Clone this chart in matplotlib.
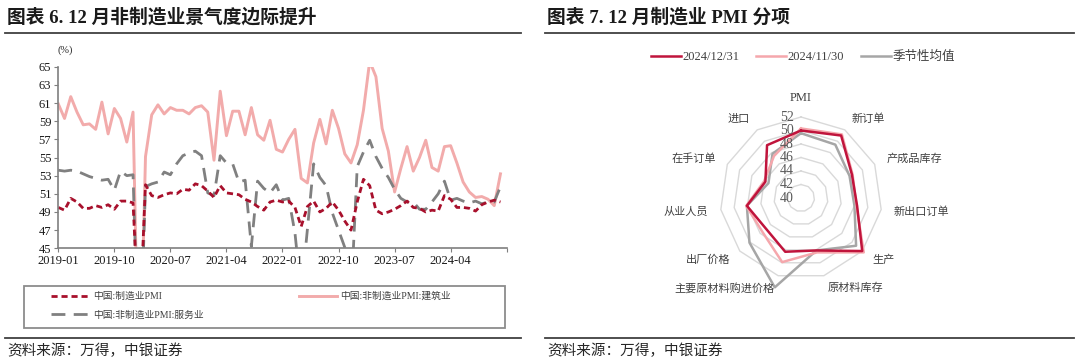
import numpy as np
import matplotlib
matplotlib.use('Agg')
import matplotlib.pyplot as plt
from matplotlib.lines import Line2D
from matplotlib.patches import Rectangle

plt.rcParams['font.family'] = ['Liberation Serif', 'Noto Sans CJK SC']

# ---- left chart: monthly PMI 2019-01 .. 2024-12 (%)
mfg_pmi = [49.5, 49.2, 50.5, 50.1, 49.4, 49.4, 49.7, 49.5, 49.8, 49.3, 50.2, 50.2,
           50.0, 35.7, 52.0, 50.8, 50.6, 50.9, 51.1, 51.0, 51.5, 51.4, 52.1, 51.9,
           51.3, 50.6, 51.9, 51.1, 51.0, 50.9, 50.4, 50.1, 49.6, 49.2, 50.1, 50.3,
           50.1, 50.2, 49.5, 47.4, 49.6, 50.2, 49.0, 49.4, 50.1, 49.2, 48.0, 47.0,
           50.1, 52.6, 51.9, 49.2, 48.8, 49.0, 49.3, 49.7, 50.2, 49.5, 49.4, 49.0,
           49.2, 49.1, 50.8, 50.4, 49.5, 49.5, 49.4, 49.1, 49.8, 50.1, 50.3, 50.1]
construction_pmi = [60.9, 59.3, 61.7, 60.0, 58.6, 58.7, 58.1, 61.1, 57.6, 60.4, 59.3, 56.7,
                    60.0, 26.6, 55.1, 59.7, 60.8, 59.8, 60.5, 60.2, 60.2, 59.8, 60.5, 60.7,
                    60.0, 54.7, 62.3, 57.4, 60.1, 60.1, 57.5, 60.5, 57.5, 56.9, 59.1, 55.9,
                    55.6, 57.0, 58.1, 52.7, 52.2, 56.6, 59.2, 56.5, 60.2, 58.2, 55.4, 54.4,
                    56.4, 60.2, 65.6, 63.9, 58.2, 55.7, 51.2, 53.8, 56.2, 53.5, 55.0, 56.9,
                    53.9, 53.5, 56.2, 56.3, 54.4, 52.3, 51.2, 50.6, 50.7, 50.4, 49.7, 53.2]
services_pmi = [53.6, 53.5, 53.6, 53.5, 53.2, 52.9, 52.7, 52.5, 52.6, 51.4, 53.5, 53.0,
                53.1, 30.1, 51.8, 52.1, 52.3, 53.4, 53.1, 54.3, 55.2, 55.5, 55.7, 55.2,
                51.1, 50.8, 55.2, 54.4, 54.3, 52.3, 52.5, 45.2, 52.4, 51.6, 51.1, 52.0,
                50.3, 50.5, 46.7, 40.0, 47.1, 54.3, 52.8, 51.9, 48.9, 47.0, 45.1, 39.4,
                54.0, 55.6, 56.9, 55.1, 53.8, 52.8, 51.5, 50.5, 50.1, 50.1, 49.3, 49.3,
                50.1, 51.0, 52.4, 50.3, 50.5, 50.2, 50.0, 50.2, 49.9, 50.1, 50.1, 51.8]
x_labels = ['2019-01', '2019-10', '2020-07', '2021-04', '2022-01',
            '2022-10', '2023-07', '2024-04', '']
y_ticks = [45, 47, 49, 51, 53, 55, 57, 59, 61, 63, 65]

# ---- right chart: December manufacturing PMI sub-indices
radar_cats = ['PMI', '新订单', '产成品库存', '新出口订单', '生产', '原材料库存',
              '主要原材料购进价格', '出厂价格', '从业人员', '在手订单', '进口']
dec_2024 = [50.0, 51.0, 48.3, 48.4, 52.0, 48.1, 48.3, 46.9, 48.1, 45.8, 49.3]
nov_2024 = [50.3, 51.2, 48.4, 48.3, 52.3, 48.4, 49.9, 47.6, 48.2, 46.0, 47.4]
seasonal = [49.6, 49.4, 47.9, 48.0, 50.8, 48.1, 53.8, 50.1, 48.1, 45.3, 47.8]
radar_rings = [42, 44, 46, 48, 50, 52]
radar_ticks = [40, 42, 44, 46, 48, 50, 52]

W, H = 1080, 364
fig = plt.figure(figsize=(W / 100, H / 100), dpi=100)

def fx(px):
    return px / W

def fy(py):
    return 1 - py / H

# titles, rules, sources
fig.text(fx(7), fy(17), '图表 6. 12 月非制造业景气度边际提升', fontsize=13.5,
         fontweight='bold', va='center', color='#1a1a1a')
fig.text(fx(547), fy(17), '图表 7. 12 月制造业 PMI 分项', fontsize=13.5,
         fontweight='bold', va='center', color='#1a1a1a')
for x0, x1 in [(5, 521), (545, 1074)]:
    fig.add_artist(Line2D([fx(x0), fx(x1)], [fy(33), fy(33)], color='#404040', lw=1.3))
    fig.add_artist(Line2D([fx(x0), fx(x1)], [fy(337.5), fy(337.5)], color='#404040', lw=1.3))
fig.text(fx(7), fy(351), '资料来源：万得，中银证券', fontsize=10.5, va='center', color='#262626')
fig.text(fx(547), fy(351), '资料来源：万得，中银证券', fontsize=10.5, va='center', color='#262626')

# ---- left line chart
ax = fig.add_axes([fx(58.3), fy(248.3), fx(506.7 - 58.3), (248.3 - 66.7) / H])
x = np.arange(len(mfg_pmi))
l_con, = ax.plot(x, construction_pmi, color='#F2ABAB', lw=2.1, label='中国:非制造业PMI:建筑业')
l_ser, = ax.plot(x, services_pmi, color='#808080', lw=2.0, dashes=(5, 3),
                 label='中国:非制造业PMI:服务业')
l_mfg, = ax.plot(x, mfg_pmi, color='#A8102C', lw=2.0, dashes=(2.2, 1.4),
                 label='中国:制造业PMI')
ax.set_ylim(45, 65)
ax.set_xlim(0, 72)
ax.set_yticks(y_ticks)
ax.set_xticks(np.arange(0, 73, 9))
ax.set_xticklabels(x_labels)
ax.tick_params(labelsize=9, length=3, color='#7f7f7f', labelcolor='#1a1a1a', pad=2)
for s in ['top', 'right']:
    ax.spines[s].set_visible(False)
for s in ['left', 'bottom']:
    ax.spines[s].set_color('#7f7f7f')
    ax.spines[s].set_linewidth(1.2)
ax.patch.set_alpha(0)
fig.text(fx(65), fy(50), '(%)', fontsize=7.5, ha='center', va='center', color='#262626')

# legend box drawn separately so the second column sits where it does in the source
fig.add_artist(Rectangle((fx(24), fy(328)), fx(505 - 24), (328 - 286) / H,
                         fill=False, edgecolor='#8c8c8c', lw=1.3))
fig.legend(handles=[l_mfg, l_ser, l_con], ncol=2, loc='upper left',
           bbox_to_anchor=(fx(47), fy(288)), fontsize=7, frameon=False,
           handlelength=3.9, handletextpad=0.4, columnspacing=9.8,
           borderaxespad=0, labelcolor='#404040', labelspacing=0.95)

# ---- right radar chart
cx, cy = 801, 198
rmin, rmax = 40, 54
R = 81 * (rmax - rmin) / 12
rax = fig.add_axes([fx(cx - R), fy(cy + R), fx(2 * R), 2 * R / H], polar=True)
rax.set_theta_zero_location('N')
rax.set_theta_direction(-1)
rax.set_ylim(rmin, rmax)
rax.set_xticks([])
rax.set_yticks([])
rax.grid(False)
rax.spines['polar'].set_visible(False)
rax.patch.set_alpha(0)

n = len(radar_cats)
theta = np.arange(n) * 2 * np.pi / n
tc = np.append(theta, theta[0])
for v in radar_rings:
    rax.plot(tc, [v] * (n + 1), color='#D9D9D9', lw=1.0, zorder=1)

h_dec, = rax.plot(tc, dec_2024 + dec_2024[:1], color='#C0143C', lw=1.8, zorder=4,
                  label='2024/12/31')
h_nov, = rax.plot(tc, nov_2024 + nov_2024[:1], color='#F5A7AC', lw=1.8, zorder=3,
                  label='2024/11/30')
h_sea, = rax.plot(tc, seasonal + seasonal[:1], color='#A6A6A6', lw=1.8, zorder=2,
                  label='季节性均值')

for v in radar_ticks:
    rax.annotate(str(v), xy=(0, v), xytext=(-5, 0), textcoords='offset points',
                 ha='right', va='center', fontsize=10, color='#595959', zorder=5)

for t, lab in zip(theta, radar_cats):
    s = np.sin(t)
    ha = 'left' if s > 0.1 else ('right' if s < -0.1 else 'center')
    va = 'bottom' if lab == 'PMI' else 'center'
    fs = 9 if lab == 'PMI' else 8
    rax.text(t, 53.9, lab, ha=ha, va=va, fontsize=fs, color='#404040')

fig.legend(handles=[h_dec, h_nov, h_sea], ncol=3, loc='center',
           bbox_to_anchor=(fx(803), fy(57)), fontsize=9, frameon=False,
           handlelength=2.4, handletextpad=0.15, columnspacing=1.3,
           labelcolor='#404040')

fig.savefig('out.png', dpi=100)
